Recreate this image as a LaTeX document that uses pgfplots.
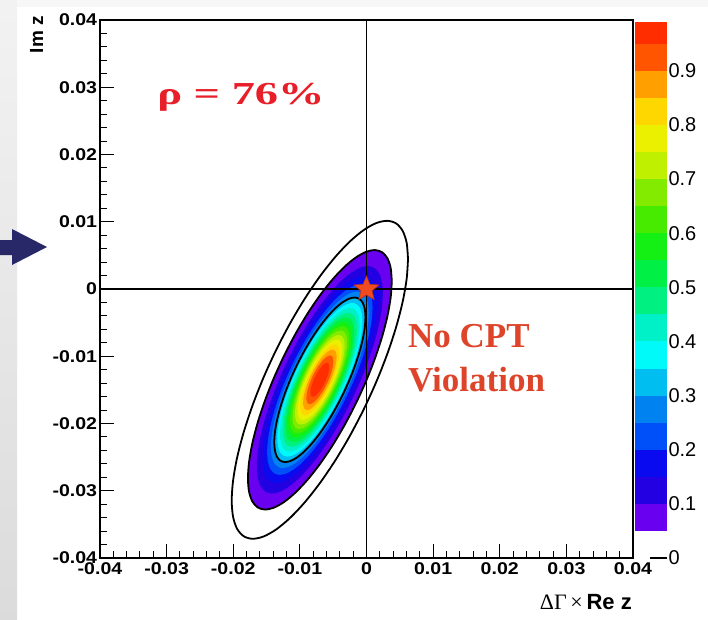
\documentclass[border=0pt]{standalone}
\usepackage{fontspec}
\setmainfont{Liberation Sans}
\newfontfamily\timesf{Liberation Serif}
\usepackage{pgfplots}
\pgfplotsset{compat=1.18}
\usepackage{pgfplotstable}

\definecolor{c1}{RGB}{105,0,240}
\definecolor{c2}{RGB}{35,0,225}
\definecolor{c3}{RGB}{10,10,240}
\definecolor{c4}{RGB}{0,80,250}
\definecolor{c5}{RGB}{0,130,240}
\definecolor{c6}{RGB}{0,190,240}
\definecolor{c7}{RGB}{0,250,250}
\definecolor{c8}{RGB}{0,240,200}
\definecolor{c9}{RGB}{0,240,130}
\definecolor{c10}{RGB}{0,240,70}
\definecolor{c11}{RGB}{20,240,20}
\definecolor{c12}{RGB}{70,235,0}
\definecolor{c13}{RGB}{130,235,0}
\definecolor{c14}{RGB}{190,240,0}
\definecolor{c15}{RGB}{235,240,0}
\definecolor{c16}{RGB}{255,215,0}
\definecolor{c17}{RGB}{255,160,0}
\definecolor{c18}{RGB}{255,85,0}
\definecolor{c19}{RGB}{255,45,0}
\definecolor{rhored}{RGB}{232,30,40}
\definecolor{cptred}{RGB}{222,68,42}
\definecolor{navy}{RGB}{40,40,105}

% unit (k=1) contour of the likelihood, offsets in units of 1e-3
\pgfplotstableread{
dx dy
4.410 5.989
4.343 6.787
4.144 7.380
3.819 7.748
3.378 7.880
2.835 7.774
2.205 7.431
1.508 6.861
0.766 6.084
0.000 5.122
-0.766 4.004
-1.508 2.765
-2.205 1.441
-2.835 0.074
-3.378 -1.296
-3.819 -2.626
-4.144 -3.876
-4.343 -5.009
-4.410 -5.989
-4.343 -6.787
-4.144 -7.380
-3.819 -7.748
-3.378 -7.880
-2.835 -7.774
-2.205 -7.431
-1.508 -6.861
-0.766 -6.084
0.000 -5.122
0.766 -4.004
1.508 -2.765
2.205 -1.441
2.835 -0.074
3.378 1.296
3.819 2.626
4.144 3.876
4.343 5.009
4.410 5.989
}\unitell

% contour level (lower edge) and its scale factor
\newcommand{\band}[2]{\addplot[fill=#1,draw=none,smooth] table[x expr=\thisrow{dx}*#2-7.0, y expr=\thisrow{dy}*#2-13.5]{\unitell};}
\newcommand{\cont}[1]{\addplot[black,line width=1.8pt,smooth] table[x expr=\thisrow{dx}*#1-7.0, y expr=\thisrow{dy}*#1-13.5]{\unitell};}
\newcommand{\cbar}[3]{\addplot[fill=#1,draw=none] coordinates {(0,#2)(1,#2)(1,#3)(0,#3)};}

\pgfdeclareplotmark{fstar}{%
 \pgfpathmoveto{\pgfpointpolar{90}{\pgfplotmarksize}}%
 \pgfpathlineto{\pgfpointpolar{126}{0.45\pgfplotmarksize}}%
 \pgfpathlineto{\pgfpointpolar{162}{\pgfplotmarksize}}%
 \pgfpathlineto{\pgfpointpolar{198}{0.45\pgfplotmarksize}}%
 \pgfpathlineto{\pgfpointpolar{234}{\pgfplotmarksize}}%
 \pgfpathlineto{\pgfpointpolar{270}{0.45\pgfplotmarksize}}%
 \pgfpathlineto{\pgfpointpolar{306}{\pgfplotmarksize}}%
 \pgfpathlineto{\pgfpointpolar{342}{0.45\pgfplotmarksize}}%
 \pgfpathlineto{\pgfpointpolar{18}{\pgfplotmarksize}}%
 \pgfpathlineto{\pgfpointpolar{54}{0.45\pgfplotmarksize}}%
 \pgfpathclose\pgfusepathqfillstroke}

\begin{document}
\begin{tikzpicture}[x=1pt,y=1pt]
\fill[white] (0,0) rectangle (708,-619);
\fill[gray!6] (0,0) rectangle (708,-7);
\shade[top color=gray!10, bottom color=gray!28] (0,0) rectangle (17,-619);
\fill[navy] (0,-240) -- (12,-240) -- (12,-229) -- (47,-247) -- (12,-265) -- (12,-255) -- (0,-255) -- cycle;

\begin{axis}[
  at={(100pt,-558pt)}, anchor=south west, scale only axis,
  width=533pt, height=538pt,
  xmin=-40, xmax=40, ymin=-40, ymax=40,
  xtick={-40,-30,-20,-10,0,10,20,30,40},
  xticklabels={-0.04,-0.03,-0.02,-0.01,0,0.01,0.02,0.03,0.04},
  ytick={-40,-30,-20,-10,0,10,20,30,40},
  yticklabels={-0.04,-0.03,-0.02,-0.01,0,0.01,0.02,0.03,0.04},
  minor x tick num=4, minor y tick num=4,
  tick align=inside, xtick pos=left, ytick pos=left,
  major tick length=14pt, minor tick length=7pt,
  every tick/.style={black, line width=1pt},
  axis line style={line width=1.2pt},
  tick label style={font=\fontsize{17pt}{19pt}\selectfont\bfseries, xscale=1.15},
  yticklabel style={xshift=1pt},
  xticklabel style={yshift=-1pt},
  clip=false,
]
\band{c1}{2.448}
\band{c2}{2.146}
\band{c3}{1.948}
\band{c4}{1.794}
\band{c5}{1.665}
\band{c6}{1.552}
\band{c7}{1.449}
\band{c8}{1.354}
\band{c9}{1.264}
\band{c10}{1.177}
\band{c11}{1.094}
\band{c12}{1.011}
\band{c13}{0.928}
\band{c14}{0.845}
\band{c15}{0.759}
\band{c16}{0.668}
\band{c17}{0.570}
\band{c18}{0.459}
\band{c19}{0.320}
\cont{1.552}
\cont{2.448}
\cont{3.0}
\addplot[black, line width=1.2pt] coordinates {(0,-40) (0,40)};
\addplot[black, line width=2.6pt] coordinates {(-40,0) (40,0)};
\addplot[only marks, mark=fstar, mark size=13pt, mark options={fill={rgb,255:red,240;green,75;blue,30}, draw={rgb,255:red,190;green,50;blue,20}, line width=0.6pt}] coordinates {(0,0)};
\end{axis}

\begin{axis}[
  at={(635pt,-558pt)}, anchor=south west, scale only axis,
  width=32pt, height=536pt,
  xmin=0, xmax=1, ymin=0, ymax=0.99,
  axis line style={draw=none},
  xtick=\empty,
  ytick={0,0.1,0.2,0.3,0.4,0.5,0.6,0.7,0.8,0.9},
  yticklabels={0,0.1,0.2,0.3,0.4,0.5,0.6,0.7,0.8,0.9},
  ytick pos=right, yticklabel pos=right,
  tick align=inside, major tick length=17pt,
  every tick/.style={black, line width=1.2pt},
  yticklabel style={font=\fontsize{20pt}{22pt}\selectfont, xshift=-2pt},
]
\cbar{c1}{0.05}{0.10}
\cbar{c2}{0.10}{0.15}
\cbar{c3}{0.15}{0.20}
\cbar{c4}{0.20}{0.25}
\cbar{c5}{0.25}{0.30}
\cbar{c6}{0.30}{0.35}
\cbar{c7}{0.35}{0.40}
\cbar{c8}{0.40}{0.45}
\cbar{c9}{0.45}{0.50}
\cbar{c10}{0.50}{0.55}
\cbar{c11}{0.55}{0.60}
\cbar{c12}{0.60}{0.65}
\cbar{c13}{0.65}{0.70}
\cbar{c14}{0.70}{0.75}
\cbar{c15}{0.75}{0.80}
\cbar{c16}{0.80}{0.85}
\cbar{c17}{0.85}{0.90}
\cbar{c18}{0.90}{0.95}
\cbar{c19}{0.95}{0.99}
\end{axis}

\node[rotate=90, anchor=base east, inner sep=0pt, font=\fontsize{19pt}{22pt}\selectfont\bfseries] at (43,-16) {Im z};
\node[anchor=base east, inner sep=0pt, font=\fontsize{22pt}{26pt}\selectfont] at (632,-609) {{\timesf ΔΓ\,×\,}{\bfseries Re z}};
\node[anchor=base west, inner sep=0pt, xscale=1.45, text=rhored, font=\fontsize{32pt}{36pt}\selectfont\timesf\bfseries] at (157,-104) {ρ = 76\%};
\node[anchor=base west, inner sep=0pt, text=cptred, font=\fontsize{35pt}{40pt}\selectfont\timesf\bfseries] at (408,-347) {No CPT};
\node[anchor=base west, inner sep=0pt, text=cptred, font=\fontsize{35pt}{40pt}\selectfont\timesf\bfseries] at (408,-391) {Violation};

\pgfresetboundingbox
\path[use as bounding box] (0,0) rectangle (708,-619);
\end{tikzpicture}
\end{document}
